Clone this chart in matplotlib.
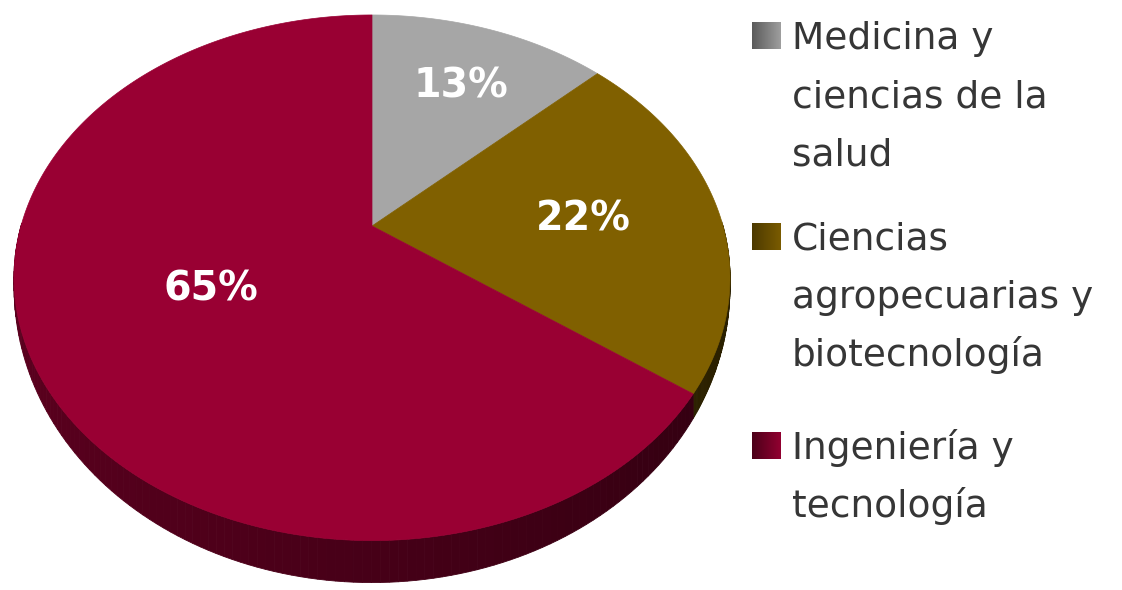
import numpy as np
import matplotlib.pyplot as plt
from matplotlib.patches import Polygon
from matplotlib.colors import to_rgb

# data
labels = ['Medicina y\nciencias de la\nsalud',
          'Ciencias\nagropecuarias y\nbiotecnología',
          'Ingeniería y\ntecnología']
shares = [13, 22, 65]
pct_text = ['13%', '22%', '65%']
colors = ['#a6a6a6', '#806000', '#990033']
label_r = [0.69, 0.6, 0.5]

# pseudo 3d pie geometry (pixel space)
CX, CY = 372, 226
SX, SY = 351, 252.6
K = 0.197
DEPTH = 42


def proj(t, r=1.0, z=0.0):
    x = r * np.cos(t)
    y = r * np.sin(t)
    w = 1 + K * y
    return CX + SX * x / w, CY - SY * y / w + z * DEPTH * np.maximum(0, -np.sin(t))


def shade(c, f):
    return tuple(np.array(to_rgb(c)) * f)


fig = plt.figure(figsize=(11.22, 5.90), dpi=100)
ax = fig.add_axes([0, 0, 1, 1])
ax.set_xlim(0, 1122)
ax.set_ylim(590, 0)
ax.axis('off')

fracs = np.array(shares) / np.sum(shares)
starts = np.pi / 2 - 2 * np.pi * np.concatenate([[0], np.cumsum(fracs)[:-1]])
ends = starts - 2 * np.pi * fracs

# side walls, far pieces first
quads = []
for i in range(len(shares)):
    ts = np.linspace(starts[i], ends[i], 200)
    for a, b in zip(ts[:-1], ts[1:]):
        m = 0.5 * (a + b)
        if np.sin(m) > 0.02:
            continue
        x0, y0 = proj(a)
        x1, y1 = proj(b)
        x2, y2 = proj(b, z=1)
        x3, y3 = proj(a, z=1)
        f = 0.46 - 0.14 * np.cos(m)
        quads.append((np.sin(m), [(x0, y0), (x1, y1), (x2, y2), (x3, y3)],
                      shade(colors[i], f)))
quads.sort(key=lambda q: -q[0])
for _, pts, c in quads:
    ax.add_patch(Polygon(pts, closed=True, facecolor=c, edgecolor=c, lw=0.6))

# top faces
for i in range(len(shares)):
    ts = np.linspace(starts[i], ends[i], 300)
    xs, ys = proj(ts)
    pts = [(CX, CY)] + list(zip(xs, ys))
    ax.add_patch(Polygon(pts, closed=True, facecolor=colors[i],
                         edgecolor=colors[i], lw=0.5))

# percentage labels
for i in range(len(shares)):
    m = 0.5 * (starts[i] + ends[i])
    lx, ly = proj(m, r=label_r[i])
    ax.text(lx + 3, ly + 14, pct_text[i], color='white', fontsize=28.5,
            fontweight='bold', ha='center', va='baseline')

# legend
marker_dark = [0.55, 0.6, 0.5]
group_base = [49, 250, 459]
line_step = 58
for i, lab in enumerate(labels):
    b = group_base[i]
    c = np.array(to_rgb(colors[i]))
    grad = np.linspace(c * marker_dark[i], c * 0.95, 40)[None, :, :]
    grad = np.repeat(grad, 2, axis=0)
    ax.imshow(grad, extent=(752, 781, b, b - 27), aspect='auto',
              interpolation='bilinear', zorder=3)
    for j, line in enumerate(lab.split('\n')):
        ax.text(792, b + j * line_step, line, color='#363636',
                fontsize=27, ha='left', va='baseline')

ax.set_xlim(0, 1122)
ax.set_ylim(590, 0)
plt.savefig('out.png', dpi=100)
